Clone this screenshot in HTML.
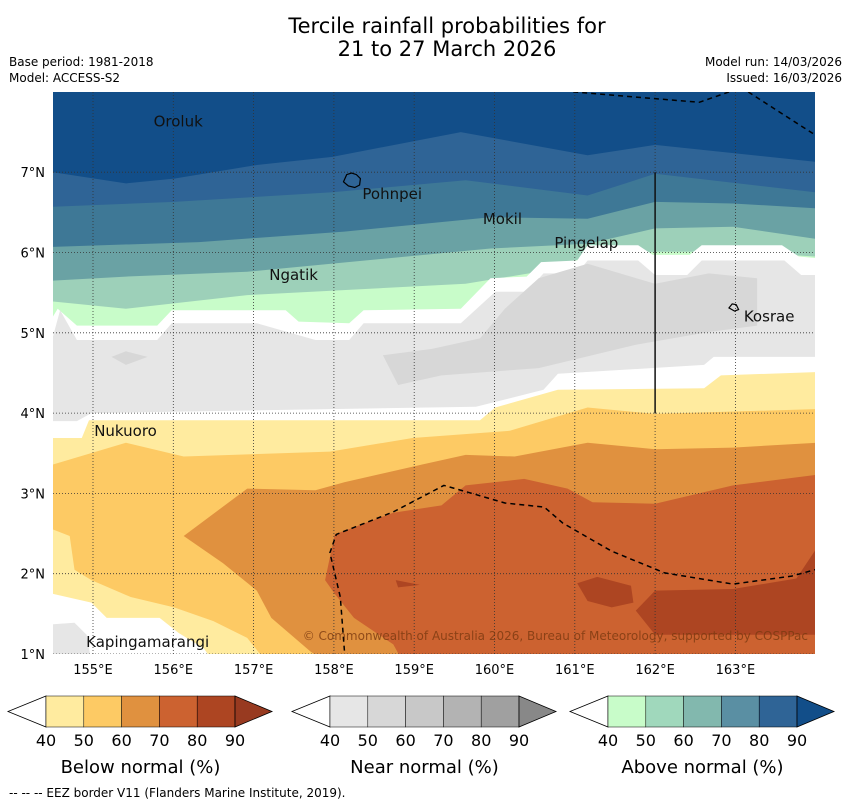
<!DOCTYPE html>
<html><head><meta charset="utf-8"><style>
body{margin:0;background:#fff;}
svg{display:block;font-family:"DejaVu Sans","Liberation Sans",sans-serif;}
</style></head><body>
<svg id="s" width="850" height="804" viewBox="0 0 850 804" xmlns="http://www.w3.org/2000/svg">
<defs><clipPath id="mc"><rect x="53" y="92" width="762" height="562"/></clipPath></defs>
<text x="447" y="33" font-size="21" text-anchor="middle">Tercile rainfall probabilities for</text>
<text x="447" y="56" font-size="21" text-anchor="middle">21 to 27 March 2026</text>
<text x="9" y="66" font-size="12">Base period: 1981-2018</text>
<text x="9" y="82" font-size="12">Model: ACCESS-S2</text>
<text x="842" y="66" font-size="12" text-anchor="end">Model run: 14/03/2026</text>
<text x="842" y="82" font-size="12" text-anchor="end">Issued: 16/03/2026</text>
<g id="map" clip-path="url(#mc)"></g>
<g id="ax"></g>
<g id="cb"></g>
<text x="9" y="797" font-size="12">--  --  -- EEZ border V11 (Flanders Marine Institute, 2019).</text>
</svg>
<script>
const lonTicks=[155,156,157,158,159,160,161,162,163];
const latTicks=[1,2,3,4,5,6,7];
const band1=[[154.5,7.0],[155.41,6.86],[156.01,6.92],[157.04,7.09],[157.98,7.19],[159.58,7.5],[161.16,7.21],[162.0,7.34],[164,7.13]];
const band2=[[154.5,6.57],[156.01,6.63],[157.98,6.75],[159.64,6.9],[161.16,6.71],[162.0,6.98],[164,6.75]];
const band3=[[154.5,6.07],[156.32,6.13],[158.13,6.26],[159.95,6.44],[161.16,6.42],[162.0,6.63],[162.97,6.61],[164,6.55]];
const band4=[[154.5,5.65],[155.41,5.70],[156.92,5.76],[159.95,6.05],[161.16,6.11],[162.0,6.3],[162.97,6.32],[164,6.17]];
const band5=[[154.5,5.39],[155.41,5.3],[156.92,5.47],[159.64,5.61],[160.55,5.76],[161.16,5.95],[162.0,6.01],[162.97,6.01],[164,5.95]];
const whiteTop=[[154.5,5.2],[154.56,5.3],[154.8,5.09],[155.8,5.09],[155.98,5.28],[157.4,5.28],[157.56,5.14],[158.19,5.12],[158.37,5.28],[159.58,5.3],[159.95,5.68],[160.4,5.7],[160.58,5.88],[161.03,5.9],[161.16,6.09],[161.79,6.09],[161.97,5.97],[162.43,5.97],[162.58,6.09],[163.58,6.09],[163.79,5.95],[164,5.93]];
const greyTop=[[154.5,4.95],[154.59,5.28],[154.8,4.91],[155.8,4.91],[155.98,5.12],[157.04,5.12],[157.77,4.91],[158.19,4.91],[158.37,5.12],[159.58,5.12],[160.01,5.51],[160.4,5.51],[160.61,5.74],[161.03,5.74],[161.16,5.9],[161.79,5.9],[162.0,5.72],[162.4,5.72],[162.58,5.9],[163.61,5.9],[163.82,5.72],[164,5.72]];
const greyDark=[[158.61,4.72],[158.8,4.35],[159.34,4.47],[160.55,4.56],[161.76,4.85],[162.67,5.01],[163.27,5.09],[163.27,5.68],[162.67,5.74],[162.0,5.61],[161.16,5.86],[160.55,5.68],[160.13,5.3],[159.82,4.93],[159.22,4.8]];
const greyDarkSmall=[[155.23,4.7],[155.41,4.6],[155.68,4.7],[155.41,4.77]];
const greyBottom=[[154.5,3.90],[154.8,3.90],[154.98,4.0],[159.77,4.08],[160.61,4.29],[160.79,4.49],[162.61,4.6],[162.73,4.7],[164,4.7]];
const yellowTop=[[154.5,3.69],[154.86,3.69],[154.95,3.91],[159.82,3.91],[160.01,4.07],[160.79,4.29],[162.61,4.31],[162.82,4.47],[164,4.51]];
const orange1Top=[[154.5,3.36],[155.41,3.63],[156.13,3.46],[157.95,3.52],[158.98,3.69],[160.19,3.78],[161.16,4.07],[162.0,3.99],[164,4.05]];
const llYellow=[[154.5,2.55],[154.71,2.47],[154.77,2.05],[154.98,1.92],[155.47,1.71],[156.01,1.58],[156.5,1.41],[156.92,1.2],[157.16,0.9],[154.5,0.9]];
const llWhite=[[154.5,1.75],[154.98,1.64],[155.17,1.45],[155.83,1.45],[156.07,1.26],[156.38,1.07],[156.5,0.9],[154.5,0.9]];
const llGrey=[[154.5,1.37],[154.77,1.39],[154.92,1.24],[154.98,0.9],[154.5,0.9]];
const orange2=[[156.13,2.47],[156.92,3.06],[157.77,3.04],[158.13,3.14],[159.1,3.36],[159.64,3.48],[160.25,3.46],[161.16,3.63],[162.0,3.55],[162.97,3.57],[164,3.63],[164,0.9],[157.89,0.9],[157.71,1.03],[157.22,1.45],[157.04,1.79],[156.62,2.13]];
const orange3=[[157.89,1.92],[158.01,2.49],[158.74,2.76],[159.34,2.85],[159.64,3.1],[160.37,3.18],[160.91,3.06],[161.22,2.89],[162.0,2.87],[162.97,3.1],[164,3.23],[164,0.9],[158.86,0.9],[158.74,1.12],[158.25,1.45],[158.01,1.75]];
const dark1=[[161.76,1.54],[162.0,1.79],[162.97,1.81],[163.76,1.94],[164,2.3],[164,1.24],[162.0,1.24]];
const dark2=[[161.03,1.88],[161.28,1.96],[161.7,1.85],[161.73,1.64],[161.46,1.58],[161.16,1.66]];
const dark3=[[158.77,1.92],[159.07,1.86],[158.8,1.83]];
const eezSouth=[[158.14,0.93],[158.08,1.71],[157.95,2.26],[158.03,2.49],[158.74,2.77],[159.37,3.10],[159.65,3.02],[160.13,2.88],[160.62,2.83],[160.85,2.63],[161.46,2.28],[162.12,2.01],[162.97,1.87],[163.70,1.97],[163.99,2.05],[164.1,2.07]];
const eezNorth1=[[160.98,8.0],[162.55,7.87],[162.92,8.0]];
const eezNorth2=[[163.16,8.0],[164.0,7.46]];
const pohnpeiShape=[[158.12,6.88],[158.16,6.97],[158.22,6.99],[158.28,6.97],[158.33,6.92],[158.32,6.84],[158.26,6.81],[158.18,6.83]];
const kosraeShape=[[162.92,5.31],[162.96,5.36],[163.01,5.35],[163.04,5.29],[162.99,5.27]];
const islands=[["Oroluk",155.73,7.63],["Pohnpei",158.33,6.73],["Mokil",159.83,6.42],["Pingelap",160.72,6.12],["Ngatik",157.17,5.72],["Kosrae",163.08,5.2],["Nukuoro",154.99,3.78],["Kapingamarangi",154.89,1.15]];

const NS="http://www.w3.org/2000/svg";
const X=lon=>93+(lon-155)*80.3;
const Y=lat=>654-(lat-1)*80.3;
function mk(tag,attrs,parent){const e=document.createElementNS(NS,tag);for(const k in attrs)e.setAttribute(k,attrs[k]);parent.appendChild(e);return e;}
const map=document.getElementById('map');
const pts=a=>a.map(p=>X(p[0]).toFixed(1)+','+Y(p[1]).toFixed(1)).join(' ');
function poly(a,fill,name){const e=mk('polygon',{points:pts(a),fill:fill},map);

return e;}
function below(a,fill,name){return poly(a.concat([[164.2,a[a.length-1][1]],[164.2,0.5],[154.3,0.5],[154.3,a[0][1]]]),fill,name);}
let bg=mk('rect',{x:53,y:92,width:762,height:562,fill:'#124e89'},map);


below(band1,'#2f6496','band-above-80');
below(band2,'#3e7896','band-above-70');
below(band3,'#6aa2a4','band-above-60');
below(band4,'#9dd0b9','band-above-50');
below(band5,'#c8fcc9','band-above-40');
below(whiteTop,'#ffffff','band-white-upper');
below(greyTop,'#e6e6e6','band-near-40');
poly(greyDark,'#d7d7d7','band-near-50');
poly(greyDarkSmall,'#d7d7d7','band-near-50-small');
below(greyBottom,'#ffffff','band-white-lower');
below(yellowTop,'#ffeb9f','band-below-40');
below(orange1Top,'#fdca64','band-below-50');
poly(llYellow,'#ffeb9f','band-below-40-southwest');
poly(llWhite,'#ffffff','band-white-southwest');
poly(llGrey,'#e6e6e6','band-near-40-southwest');
poly(orange2,'#e0913f','band-below-60');
poly(orange3,'#cc6230','band-below-70');
poly(dark1,'#ad4522','band-below-80');
poly(dark2,'#ad4522','band-below-80-blob');
poly(dark3,'#ad4522','band-below-80-small');
lonTicks.forEach(l=>{const e=mk('line',{x1:X(l),x2:X(l),y1:92,y2:654,stroke:'#333','stroke-width':0.8,'stroke-dasharray':'1,2'},map);

});
latTicks.forEach(l=>{const e=mk('line',{x1:53,x2:815,y1:Y(l),y2:Y(l),stroke:'#333','stroke-width':0.8,'stroke-dasharray':'1,2'},map);

});
[eezSouth,eezNorth1,eezNorth2].forEach(a=>{const e=mk('polyline',{points:pts(a),fill:'none',stroke:'#000','stroke-width':1.5,'stroke-dasharray':'5,4'},map);

});
let vl=mk('line',{x1:X(162),x2:X(162),y1:Y(7),y2:Y(4),stroke:'#111','stroke-width':1.5},map);


[[pohnpeiShape,'pohnpei-outline'],[kosraeShape,'kosrae-outline']].forEach(d=>{const e=mk('polygon',{points:pts(d[0]),fill:'none',stroke:'#000','stroke-width':1.2},map);

});
islands.forEach(d=>{const t=mk('text',{x:X(d[1])+2,y:Y(d[2])+5,'font-size':15,fill:'#111'},map);t.textContent=d[0];

});
let cr=mk('text',{x:808,y:640,'font-size':12,'text-anchor':'end',fill:'#7a3a10','fill-opacity':0.8},map);
cr.textContent='© Commonwealth of Australia 2026, Bureau of Meteorology, supported by COSPPac';


const ax=document.getElementById('ax');
lonTicks.forEach(l=>{const t=mk('text',{x:X(l),y:674,'font-size':13,'text-anchor':'middle'},ax);t.textContent=l+'°E';

});
latTicks.forEach(l=>{const t=mk('text',{x:45,y:Y(l)+5,'font-size':13,'text-anchor':'end'},ax);t.textContent=l+'°N';

});
const cbLabels=[40,50,60,70,80,90];
const cbBelow=['#ffeb9f','#fdca64','#e0913f','#cc6230','#ad4522','#983a20'];
const cbNear=['#e6e6e6','#d7d7d7','#c8c8c8','#b3b3b3','#a0a0a0','#888888'];
const cbAbove=['#c8fcc9','#a0d8bc','#82b8ae','#5a8fa3','#2f6496','#124e89'];
const cb=document.getElementById('cb');
function bar(x0,cols,title,name){const w=37.8,y0=696,h=31;const g=mk('g',{},cb);


mk('polygon',{points:`${x0-38},${y0+h/2} ${x0},${y0} ${x0},${y0+h}`,fill:'#fff',stroke:'#000','stroke-width':0.8},g);
for(let i=0;i<5;i++)mk('rect',{x:x0+i*w,y:y0,width:w,height:h,fill:cols[i],stroke:'#000','stroke-width':0.5},g);
const xe=x0+5*w;mk('polygon',{points:`${xe},${y0} ${xe+37},${y0+h/2} ${xe},${y0+h}`,fill:cols[5],stroke:'#000','stroke-width':0.8},g);
cbLabels.forEach((v,i)=>{const t=mk('text',{x:x0+i*w,y:746,'font-size':16,'text-anchor':'middle'},g);t.textContent=v;});
const t=mk('text',{x:x0+2.5*w,y:773,'font-size':18,'text-anchor':'middle'},g);t.textContent=title;}
bar(46,cbBelow,'Below normal (%)','colorbar-below-normal');
bar(330,cbNear,'Near normal (%)','colorbar-near-normal');
bar(608,cbAbove,'Above normal (%)','colorbar-above-normal');
</script>
</body></html>
